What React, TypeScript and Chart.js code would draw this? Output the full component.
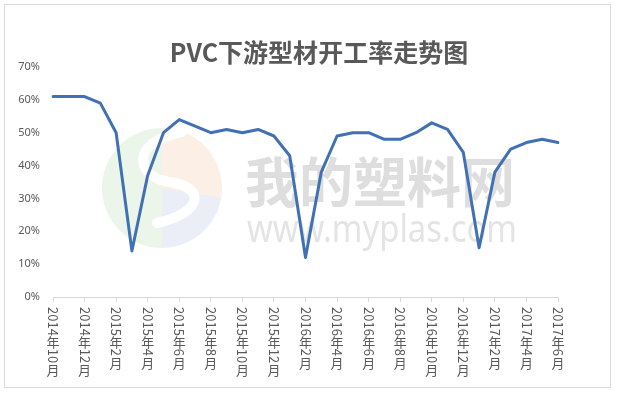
import React, { useEffect, useRef } from "react";
import { Chart, registerables } from "chart.js";

Chart.register(...registerables);

const title = "PVC下游型材开工率走势图";

const categories = [
  "2014年10月", "2014年11月", "2014年12月",
  "2015年1月", "2015年2月", "2015年3月", "2015年4月", "2015年5月", "2015年6月",
  "2015年7月", "2015年8月", "2015年9月", "2015年10月", "2015年11月", "2015年12月",
  "2016年1月", "2016年2月", "2016年3月", "2016年4月", "2016年5月", "2016年6月",
  "2016年7月", "2016年8月", "2016年9月", "2016年10月", "2016年11月", "2016年12月",
  "2017年1月", "2017年2月", "2017年3月", "2017年4月", "2017年5月", "2017年6月",
];

const rates = [
  61, 61, 61, 59, 50, 14, 37, 50, 54, 52, 50, 51, 50, 51, 49, 43, 12,
  38, 49, 50, 50, 48, 48, 50, 53, 51, 44, 15, 38, 45, 47, 48, 47,
];

const yMin = 0;
const yMax = 70;
const yStep = 10;

const watermarkCn = "我的塑料网";
const watermarkEn = "www.myplas.com";

const GRAY_TEXT = "#595959";
const AXIS_GRAY = "#d9d9d9";
const LINE_BLUE = "#4171b3";

const decorPlugin = {
  id: "decor",
  beforeDatasetsDraw(chart: any) {
    const ctx = chart.ctx as CanvasRenderingContext2D;
    ctx.save();
    // faint logo
    const cx = 162, cy = 188, r = 60;
    ctx.globalAlpha = 0.4;
    ctx.fillStyle = "#cfe5c8";
    ctx.beginPath();
    ctx.arc(cx, cy, r, Math.PI * 0.5, Math.PI * 1.5);
    ctx.closePath();
    ctx.fill();
    ctx.fillStyle = "#f6d8c0";
    ctx.beginPath();
    ctx.moveTo(cx, cy);
    ctx.arc(cx, cy, r, Math.PI * 1.5, Math.PI * 2.05);
    ctx.closePath();
    ctx.fill();
    ctx.fillStyle = "#cdd4ec";
    ctx.beginPath();
    ctx.moveTo(cx, cy);
    ctx.arc(cx, cy, r, Math.PI * 0.05, Math.PI * 0.5);
    ctx.closePath();
    ctx.fill();
    ctx.globalAlpha = 1;
    ctx.strokeStyle = "#ffffff";
    ctx.lineWidth = 10;
    ctx.lineCap = "round";
    ctx.beginPath();
    ctx.moveTo(cx + 20, cy - 56);
    ctx.bezierCurveTo(cx - 35, cy - 45, cx - 25, cy - 10, cx + 8, cy - 6);
    ctx.bezierCurveTo(cx + 45, cy, cx + 40, cy + 25, cx - 5, cy + 35);
    ctx.stroke();

    // watermark text
    ctx.textAlign = "left";
    ctx.textBaseline = "middle";
    ctx.fillStyle = "#dedede";
    ctx.font = "bold 54px 'Noto Sans CJK SC'";
    ctx.fillText(watermarkCn, 245, 182);
    ctx.fillStyle = "#e4e4e4";
    ctx.font = "38px 'Noto Sans'";
    const w = ctx.measureText(watermarkEn).width;
    ctx.save();
    ctx.translate(247, 231);
    ctx.scale(270 / w, 1);
    ctx.fillText(watermarkEn, 0, 0);
    ctx.restore();
    ctx.restore();
  },
  afterDraw(chart: any) {
    const ctx = chart.ctx as CanvasRenderingContext2D;
    ctx.save();
    // outer border
    ctx.strokeStyle = AXIS_GRAY;
    ctx.lineWidth = 1;
    ctx.strokeRect(4.5, 4.5, 606, 383);

    // title
    ctx.fillStyle = GRAY_TEXT;
    ctx.font = "bold 25px 'Noto Sans CJK SC'";
    ctx.textAlign = "center";
    ctx.textBaseline = "middle";
    ctx.fillText(title, 319, 52);

    // vertical x labels
    const xs = chart.scales.x;
    const fs = 13;
    ctx.fillStyle = GRAY_TEXT;
    ctx.font = `${fs}px 'Noto Sans CJK SC'`;
    categories.forEach((lab, i) => {
      if (i % 2 !== 0) return;
      const x = xs.getPixelForValue(i);
      let y = 307;
      const runs = lab.match(/[0-9]+|[^0-9]/g) || [];
      runs.forEach((run) => {
        if (/^[0-9]+$/.test(run)) {
          const w = ctx.measureText(run).width;
          ctx.save();
          ctx.translate(x, y);
          ctx.rotate(Math.PI / 2);
          ctx.textAlign = "left";
          ctx.textBaseline = "middle";
          ctx.fillText(run, 0, 0);
          ctx.restore();
          y += w;
        } else {
          ctx.textAlign = "center";
          ctx.textBaseline = "top";
          ctx.fillText(run, x, y);
          y += fs;
        }
      });
    });
    ctx.restore();
  },
};

export default function App() {
  const ref = useRef<HTMLCanvasElement | null>(null);
  useEffect(() => {
    document.body.style.margin = "0";
    const canvas = ref.current;
    if (!canvas) return;
    const chart = new Chart(canvas, {
      type: "line",
      data: {
        labels: categories,
        datasets: [
          {
            data: rates,
            borderColor: LINE_BLUE,
            backgroundColor: LINE_BLUE,
            borderWidth: 3,
            pointRadius: 0,
            tension: 0,
            borderJoinStyle: "round",
            borderCapStyle: "round",
          },
        ],
      },
      options: {
        animation: false,
        responsive: false,
        devicePixelRatio: 1,
        layout: { padding: { left: 0, right: 59, top: 67, bottom: 0 } },
        plugins: { legend: { display: false }, title: { display: false }, tooltip: { enabled: false } },
        scales: {
          x: {
            type: "category",
            offset: false,
            grid: {
              display: true,
              drawOnChartArea: false,
              drawTicks: true,
              tickLength: 5,
              color: (c: any) => (c.index % 2 === 0 ? AXIS_GRAY : "rgba(0,0,0,0)"),
            },
            border: { display: true, color: AXIS_GRAY, width: 1 },
            ticks: { display: false, autoSkip: false },
            afterFit: (s: any) => {
              s.height = 98;
            },
          },
          y: {
            min: yMin,
            max: yMax,
            grid: { display: false, drawTicks: false },
            border: { display: false },
            ticks: {
              stepSize: yStep,
              padding: 13,
              color: GRAY_TEXT,
              font: { family: "'Noto Sans'", size: 11 },
              callback: (v: any) => `${v}%`,
            },
            afterFit: (s: any) => {
              s.width = 53;
            },
          },
        },
      },
      plugins: [decorPlugin],
    });
    return () => chart.destroy();
  }, []);
  return (
    <div style={{ width: 617, height: 395, background: "#fff" }}>
      <canvas ref={ref} width={617} height={395} style={{ display: "block" }} />
    </div>
  );
}
